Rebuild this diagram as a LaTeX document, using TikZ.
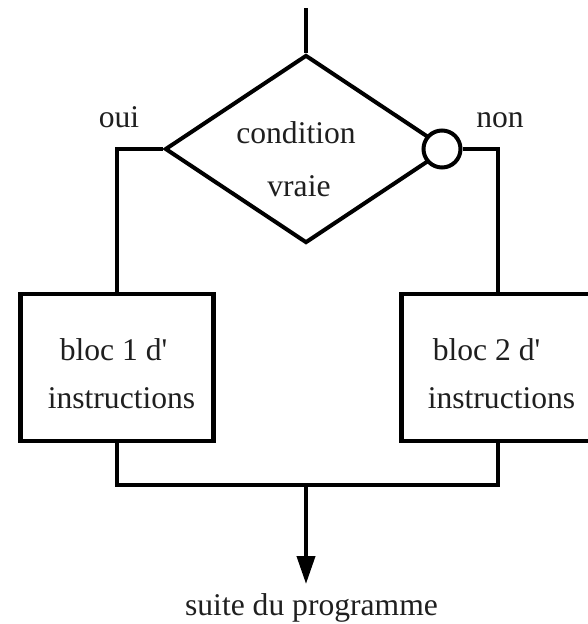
\documentclass[tikz,border=0pt]{standalone}
\usepackage{fontspec}
\setmainfont{Liberation Serif}
\usetikzlibrary{shapes.geometric,arrows.meta}
\definecolor{ink}{rgb}{0.12,0.12,0.12}
\begin{document}
\begin{tikzpicture}[x=1pt,y=-1pt,
  line/.style={draw=black,line width=4pt},
  dia/.style={diamond,draw=black,line width=4pt,minimum width=282pt,minimum height=188pt,inner sep=0pt},
  blocbox/.style={rectangle,draw=black,line width=4.5pt,minimum width=193pt,minimum height=147pt,inner sep=0pt},
  neg/.style={circle,draw=black,fill=white,line width=4pt,minimum size=37pt,inner sep=0pt},
  txt/.style={font=\fontsize{31.6}{38}\selectfont,text=ink,anchor=base,inner sep=0pt}]
\useasboundingbox (0,0) rectangle (587,624);
\fill[white] (0,0) rectangle (587,624);
% shapes
\node[dia] (cond) at (306,149) {};
\node[neg] (n) at (442,149) {};
\node[blocbox] (b1) at (117,367.5) {};
\node[blocbox] (b2) at (498,367.5) {};
% coordinates
\coordinate (top) at (306,8);
\coordinate (j) at (306,485);
\coordinate (fin) at (306,584);
% connectors
\draw[line] (top) -- (cond.north);
\draw[line] (cond.west) -| (b1.north);
\draw[line] (n.east) -| (b2.north);
\draw[line] (b1.south) |- (j) -| (b2.south);
\draw[line,-{Triangle[length=28pt,width=18pt]}] (j) -- (fin);
% texts
\node[txt] (t1) at (296,143) {condition};
\node[txt] (t2) at (299,196) {vraie};
\node[txt] (oui) at (119,127) {oui};
\node[txt] (non) at (500,127) {non};
\node[txt] (b1a) at (113.5,360) {bloc 1 d\textquotesingle};
\node[txt] (b1b) at (121.5,408) {instructions};
\node[txt] (b2a) at (486.5,360) {bloc 2 d\textquotesingle};
\node[txt] (b2b) at (501.5,408) {instructions};
\node[txt] (suite) at (311.5,615) {suite du programme};
\end{tikzpicture}
\end{document}
